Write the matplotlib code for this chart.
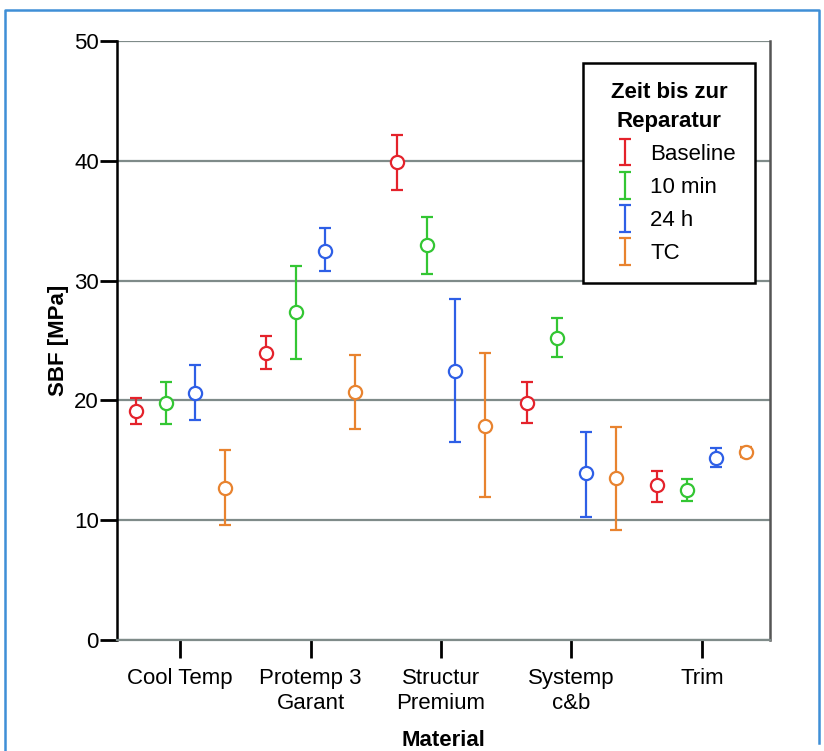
import matplotlib.pyplot as plt
from matplotlib.lines import Line2D
from matplotlib.legend_handler import HandlerErrorbar
import numpy as np

plt.rcParams['font.family'] = ['Liberation Sans', 'DejaVu Sans']

materials = ["Cool Temp", "Protemp 3\nGarant", "Structur\nPremium", "Systemp\nc&b", "Trim"]
groups = ["Baseline", "10 min", "24 h", "TC"]
colors = ["#e4222b", "#33c633", "#2e5fe6", "#e8832f"]

# mean, lower end, upper end of the error bar per group (same order as materials)
means = {
    "Baseline": [19.1, 24.0, 39.9, 19.8, 12.9],
    "10 min":   [19.8, 27.4, 33.0, 25.2, 12.5],
    "24 h":     [20.6, 32.5, 22.5, 13.9, 15.2],
    "TC":       [12.7, 20.7, 17.9, 13.5, 15.7],
}
lows = {
    "Baseline": [18.0, 22.6, 37.6, 18.1, 11.5],
    "10 min":   [18.0, 23.5, 30.6, 23.6, 11.6],
    "24 h":     [18.4, 30.8, 16.5, 10.3, 14.4],
    "TC":       [9.6, 17.6, 11.9, 9.2, 15.3],
}
highs = {
    "Baseline": [20.2, 25.4, 42.2, 21.5, 14.1],
    "10 min":   [21.5, 31.2, 35.3, 26.9, 13.4],
    "24 h":     [23.0, 34.4, 28.5, 17.4, 16.0],
    "TC":       [15.9, 23.8, 24.0, 17.8, 16.1],
}
offsets = [-0.34, -0.11, 0.11, 0.34]

fig = plt.figure(figsize=(8.24, 7.51), dpi=100)
ax = fig.add_axes([0.142, 0.148, 0.792, 0.797])

x = np.arange(len(materials))
for g, c, off in zip(groups, colors, offsets):
    m = np.array(means[g])
    lo = m - np.array(lows[g])
    hi = np.array(highs[g]) - m
    ax.errorbar(x + off, m, yerr=[lo, hi], fmt='none', ecolor=c,
                elinewidth=1.6, capsize=4.5, capthick=1.6, label=g, zorder=3)
    ax.plot(x + off, m, 'o', mfc='white', mec=c, mew=1.6, ms=9.5, zorder=4)

ax.set_xlim(-0.485, 4.52)
ax.set_ylim(0, 50)
ax.set_yticks([0, 10, 20, 30, 40, 50])
ax.set_xticks(x)
ax.set_xticklabels(materials, fontsize=16, linespacing=1.3)
ax.tick_params(axis='y', labelsize=16, length=12, width=2, pad=1)
ax.tick_params(axis='x', length=13, width=2, pad=7)
ax.yaxis.grid(True, color='#7f8b89', lw=1.6)
ax.set_axisbelow(True)

ax.spines['top'].set_visible(False)
ax.spines['bottom'].set_color('#7f8b89')
ax.spines['bottom'].set_linewidth(1.6)
ax.spines['left'].set_linewidth(1.8)
ax.spines['right'].set_color('#555555')
ax.spines['right'].set_linewidth(1.8)

ax.set_ylabel("SBF [MPa]", fontsize=16, fontweight='bold', labelpad=4)
ax.set_xlabel("Material", fontsize=16, fontweight='bold', labelpad=11)

leg = ax.legend(loc='upper right', bbox_to_anchor=(0.977, 0.963), borderaxespad=0,
                title="Zeit bis zur\nReparatur", fontsize=16, fancybox=False,
                framealpha=1, edgecolor='black', labelspacing=0.55,
                handlelength=2.0, handletextpad=0.15, borderpad=0.85,
                handler_map={type(ax.containers[0]): HandlerErrorbar(yerr_size=0.6)})
leg.get_title().set_fontweight('bold')
leg.get_title().set_fontsize(16)
leg.get_title().set_multialignment('center')
leg.get_title().set_linespacing(1.45)
leg.get_frame().set_linewidth(1.8)

# light blue frame around the figure
fig.add_artist(Line2D([5/824, 5/824, 819/824, 819/824], [0, 1 - 10/751, 1 - 10/751, 8/751],
                      transform=fig.transFigure, color='#3f8fd6', lw=1.8))

fig.savefig("out.png", dpi=100)
